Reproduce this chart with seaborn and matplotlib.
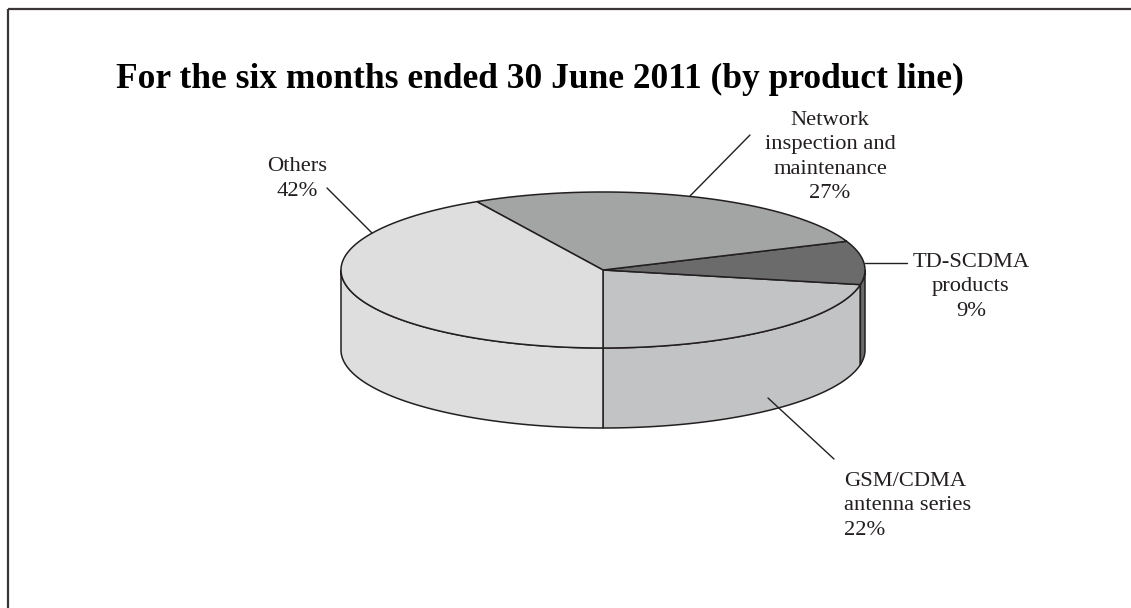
import numpy as np
import matplotlib
matplotlib.use("Agg")
import matplotlib.pyplot as plt
from matplotlib.patches import Polygon, Rectangle
import seaborn as sns

# ---- data ----
categories = ["GSM/CDMA antenna series", "TD-SCDMA products",
              "Network inspection and maintenance", "Others"]
shares = [22, 9, 27, 42]
label_texts = ["GSM/CDMA\nantenna series\n22%", "TD-SCDMA\nproducts\n9%",
               "Network\ninspection and\nmaintenance\n27%", "Others\n42%"]
colors = ["#C1C3C4", "#6B6B6B", "#A3A5A4", "#DEDEDE"]
title = "For the six months ended 30 June 2011 (by product line)"

sns.set_theme(style="white")
plt.rcParams['font.family'] = ['Liberation Serif', 'DejaVu Serif']

W, H = 1131, 608
fig = plt.figure(figsize=(W / 100, H / 100), dpi=100)
ax = fig.add_axes([0, 0, 1, 1])
ax.set_xlim(0, W)
ax.set_ylim(H, 0)
ax.axis("off")

# frame (left and top edges visible)
ax.add_patch(Rectangle((8, 9), W + 20, H + 20, fill=False, edgecolor="#3a3636",
                       lw=1.6, zorder=1))

# ---- 3D pie geometry ----
cx, cy = 603, 270
a, b = 262, 78
depth = 80
edge = "#231F20"
lw = 1.1

fr = np.array(shares, dtype=float) / sum(shares)
start = 270.0
bounds = start + 360 * np.concatenate([[0], np.cumsum(fr)])


def pt(theta_deg, dy=0.0):
    t = np.deg2rad(theta_deg)
    return cx + a * np.cos(t), cy - b * np.sin(t) + dy


# side faces (front half: 180..360 deg)
for i in range(len(shares)):
    t1, t2 = bounds[i], bounds[i + 1]
    for off in (0, -360, 360):
        s1, s2 = max(t1 + off, 180), min(t2 + off, 360)
        if s2 > s1:
            th = np.linspace(s1, s2, 120)
            top = [pt(t) for t in th]
            bot = [pt(t, depth) for t in th[::-1]]
            ax.add_patch(Polygon(top + bot, closed=True, facecolor=colors[i],
                                 edgecolor=edge, lw=lw, zorder=2,
                                 joinstyle="round"))

# top faces
for i in range(len(shares)):
    th = np.linspace(bounds[i], bounds[i + 1], 200)
    poly = [(cx, cy)] + [pt(t) for t in th]
    ax.add_patch(Polygon(poly, closed=True, facecolor=colors[i],
                         edgecolor=edge, lw=lw, zorder=3, joinstyle="round"))

# ---- labels & leader lines ----
txt_kw = dict(fontsize=16.2, color="#231F20", linespacing=1.36, zorder=5)
# GSM
ax.plot([768, 834], [398, 459], color=edge, lw=1.0, zorder=4)
ax.text(844, 506, label_texts[0], ha="left", va="center", **txt_kw)
# TD-SCDMA
ax.plot([865, 907], [263, 263], color=edge, lw=1.0, zorder=4)
ax.text(971, 287, label_texts[1], ha="center", va="center", multialignment="center", **txt_kw)
# Network
ax.plot([690, 750], [196, 135], color=edge, lw=1.0, zorder=4)
ax.text(830, 157, label_texts[2], ha="center", va="center", multialignment="center", **txt_kw)
# Others
ax.plot([327, 372], [188, 233], color=edge, lw=1.0, zorder=4)
ax.text(297, 179, label_texts[3], ha="center", va="center", multialignment="center", **txt_kw)

# title
ax.text(540, 79, title, ha="center", va="center", fontsize=25.5,
        fontweight="bold", color="black", zorder=5)

fig.savefig("out.png", dpi=100)
